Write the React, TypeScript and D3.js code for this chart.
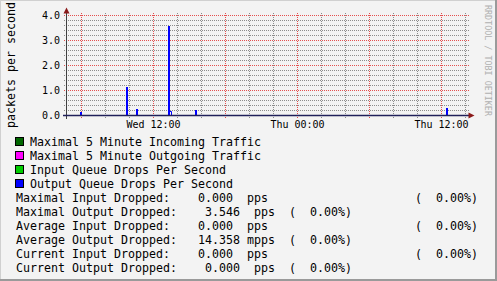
import React from 'react';
import * as d3 from 'd3';

const W = 497;
const H = 281;

const timeStart = '2024-01-10T04:50:00Z';
const timeEnd = '2024-01-11T14:10:00Z';

const yTickValues = [0, 1, 2, 3, 4];
const yTickLabels = ['0.0', '1.0', '2.0', '3.0', '4.0'];

const outputDropTimes = [
  '2024-01-10T05:55:00Z',
  '2024-01-10T09:45:00Z',
  '2024-01-10T10:35:00Z',
  '2024-01-10T13:15:00Z',
  '2024-01-10T15:30:00Z',
  '2024-01-11T12:25:00Z',
];
const outputDropValues = [0.12, 1.12, 0.24, 3.546, 0.2, 0.28];

const outputEdgeTimes = ['2024-01-10T13:25:00Z'];
const outputEdgeValues = [0.16];

const legendLabels = [
  'Maximal 5 Minute Incoming Traffic',
  'Maximal 5 Minute Outgoing Traffic',
  'Input Queue Drops Per Second',
  'Output Queue Drops Per Second',
];
const legendColors = ['#006600', '#ff00ff', '#00cc00', '#0000ff'];

const sp = (n: number) => ' '.repeat(n);
const statLines = [
  `Maximal Input Dropped:${sp(4)}0.000  pps${sp(21)}(  0.00%)`,
  `Maximal Output Dropped:${sp(4)}3.546  pps  (  0.00%)`,
  `Average Input Dropped:${sp(4)}0.000  pps${sp(21)}(  0.00%)`,
  `Average Output Dropped:${sp(3)}14.358 mpps  (  0.00%)`,
  `Current Input Dropped:${sp(4)}0.000  pps${sp(21)}(  0.00%)`,
  `Current Output Dropped:${sp(4)}0.000  pps  (  0.00%)`,
];

const yAxisLabel = 'packets per second';
const watermark = 'RRDTOOL / TOBI OETIKER';

const MONO = "'DejaVu Sans Mono', monospace";

export default function App() {
  const t0 = new Date(timeStart);
  const t1 = new Date(timeEnd);
  const x = d3.scaleUtc().domain([t0, t1]).range([67, 467]);
  const y = d3.scaleLinear().domain([0, 4]).range([115, 15]);

  const hours = d3.utcHour.every(2)!.range(t0, t1);
  const fmt = d3.utcFormat('%a %H:%M');
  const minorY = d3.range(1, 20).map((i) => i * 0.2);

  const gridGray = '#8c8c8c';
  const gridRed = '#e44f4f';

  const barMs = 10 * 60 * 1000;

  return (
    <svg
      width={W}
      height={H}
      style={{ position: 'fixed', left: 0, top: 0, display: 'block' }}
      xmlns="http://www.w3.org/2000/svg"
    >
      <rect x={0} y={0} width={W} height={H} fill="#f3f3f3" />
      <line x1={0} y1={0.5} x2={W} y2={0.5} stroke="#d0d0d0" />
      <line x1={0.5} y1={0} x2={0.5} y2={H} stroke="#d0d0d0" />
      <line x1={0} y1={H - 1} x2={W} y2={H - 1} stroke="#9a9a9a" strokeWidth={2} />
      <line x1={W - 1} y1={0} x2={W - 1} y2={H} stroke="#9a9a9a" strokeWidth={2} />

      {/* minor horizontal grid */}
      {minorY
        .filter((v, i) => (i + 1) % 5 !== 0)
        .map((v, i) => {
          const yy = Math.round(y(v)) + 0.5;
          return (
            <line key={'hm' + i} x1={64} x2={470} y1={yy} y2={yy} stroke={gridGray} strokeDasharray="1,1" />
          );
        })}
      {/* minor vertical grid */}
      {hours
        .filter((h) => h.getUTCHours() % 6 !== 0)
        .map((h, i) => {
          const xx = Math.round(x(h)) + 0.5;
          return (
            <line key={'vm' + i} x1={xx} x2={xx} y1={13} y2={118} stroke={gridGray} strokeDasharray="1,1" />
          );
        })}
      {/* major horizontal grid */}
      {yTickValues
        .filter((v) => v > 0)
        .map((v, i) => {
          const yy = Math.round(y(v)) + 0.5;
          return (
            <line key={'hM' + i} x1={64} x2={470} y1={yy} y2={yy} stroke={gridRed} strokeDasharray="1,1" />
          );
        })}
      {/* major vertical grid */}
      {hours
        .filter((h) => h.getUTCHours() % 6 === 0)
        .map((h, i) => {
          const xx = Math.round(x(h)) + 0.5;
          return (
            <line key={'vM' + i} x1={xx} x2={xx} y1={13} y2={118} stroke={gridRed} strokeDasharray="1,1" />
          );
        })}

      {/* output queue drops */}
      {outputDropTimes.map((t, i) => {
        const d = new Date(t);
        const x0 = x(d);
        const x1 = x(new Date(d.getTime() + barMs));
        const yt = Math.round(y(outputDropValues[i]));
        return <rect key={'b' + i} x={x0} y={yt} width={x1 - x0} height={115 - yt} fill="#0000ff" />;
      })}
      {outputEdgeTimes.map((t, i) => {
        const d = new Date(t);
        const x0 = x(d);
        const yt = Math.round(y(outputEdgeValues[i]));
        return (
          <path
            key={'e' + i}
            d={`M${x0 - 1},${yt + 0.5}H${x0 + 1.5}V115`}
            fill="none"
            stroke="#0000ff"
          />
        );
      })}

      {/* axes */}
      <line x1={66.5} x2={66.5} y1={119} y2={12} stroke="#404040" />
      <path d="M66.5,7.5L69.5,13.5L63.5,13.5Z" fill="#8b1a1a" />
      <line x1={63} x2={470} y1={115.5} y2={115.5} stroke="#20205a" strokeWidth={1.5} />
      <path d="M474.5,115.5L468.5,112.5L468.5,118.5Z" fill="#8b1a1a" />

      {/* y tick labels */}
      {yTickValues.map((v, i) => (
        <text
          key={'yl' + i}
          x={60}
          y={Math.round(y(v)) + 4}
          textAnchor="end"
          fontFamily={MONO}
          fontSize={10}
          fill="#000"
        >
          {yTickLabels[i]}
        </text>
      ))}
      {/* x tick labels */}
      {hours
        .filter((h) => h.getUTCHours() % 12 === 0)
        .map((h, i) => (
          <text
            key={'xl' + i}
            x={Math.round(x(h)) + 0.5}
            y={128}
            textAnchor="middle"
            fontFamily={MONO}
            fontSize={10}
            fill="#000"
          >
            {fmt(h)}
          </text>
        ))}

      {/* y axis title */}
      <text
        transform="translate(14.5,65) rotate(-90)"
        textAnchor="middle"
        fontFamily={MONO}
        fontSize={11.63}
        fill="#000"
      >
        {yAxisLabel}
      </text>

      {/* watermark */}
      <text
        transform="translate(485,5) rotate(90)"
        fontFamily={MONO}
        fontSize={8.4}
        fill="#b0b0b0"
      >
        {watermark}
      </text>

      {/* legend */}
      {legendLabels.map((l, i) => (
        <g key={'lg' + i}>
          <rect x={15.5} y={137.5 + i * 14} width={8} height={8} fill={legendColors[i]} stroke="#000" />
          <text x={30} y={145.5 + i * 14} fontFamily={MONO} fontSize={11.63} fill="#000">
            {l}
          </text>
        </g>
      ))}
      {statLines.map((s, i) => (
        <text
          key={'st' + i}
          x={16}
          y={201.5 + i * 14}
          fontFamily={MONO}
          fontSize={11.63}
          fill="#000"
          style={{ whiteSpace: 'pre' }}
          xmlSpace="preserve"
        >
          {s}
        </text>
      ))}
    </svg>
  );
}
